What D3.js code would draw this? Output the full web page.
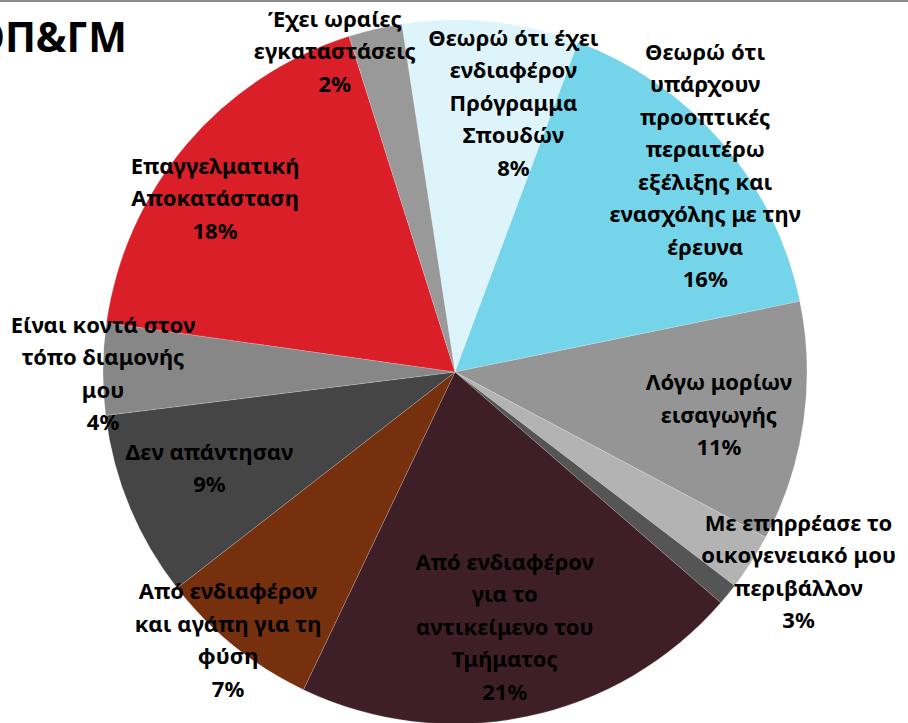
<!DOCTYPE html>
<html>
<head>
<meta charset="utf-8">
<script src="https://d3js.org/d3.v7.min.js"></script>
<style>
  body { margin: 0; background: #fff; }
  text { font-family: "Noto Sans", "DejaVu Sans", sans-serif; font-weight: bold; fill: #000; }
</style>
</head>
<body>
<svg width="908" height="723"></svg>
<script>
// slices, clockwise from the light blue one
var labels = [
  ["Θεωρώ ότι έχει", "ενδιαφέρον", "Πρόγραμμα", "Σπουδών"],
  ["Θεωρώ ότι", "υπάρχουν", "προοπτικές", "περαιτέρω", "εξέλιξης και", "ενασχόλης με την", "έρευνα"],
  ["Λόγω μορίων", "εισαγωγής"],
  ["Με επηρρέασε το", "οικογενειακό μου", "περιβάλλον"],
  [],
  ["Από ενδιαφέρον", "για το", "αντικείμενο του", "Τμήματος"],
  ["Από ενδιαφέρον", "και αγάπη για τη", "φύση"],
  ["Δεν απάντησαν"],
  ["Είναι κοντά στον", "τόπο διαμονής", "μου"],
  ["Επαγγελματική", "Αποκατάσταση"],
  ["Έχει ωραίες", "εγκαταστάσεις"]
];
var values = [8.1, 16.1, 11, 2.6, 1.0, 20.7, 7.4, 8.55, 4.2, 17.9, 2.45];
var colors = ["#ddf4fa", "#74d4ea", "#959595", "#b3b3b3", "#555555", "#3e1f27",
              "#76300d", "#454545", "#878787", "#da1f29", "#999999"];

// label placement: [fraction along the slice, fraction of radius]
var labelPos = [[0.72, 0.78], [0.52, 0.92], [0.53, 0.76], [0.24, 1.13], null,
                [0.51, 0.74], [0.55, 1.0], [0.53, 0.75], [0.44, 1.0], [0.43, 0.84], [-0.35, 0.97]];

var svg = d3.select("svg");
var cx = 455, cy = 372, R = 352;
var start = -8.7 * Math.PI / 180;
var total = d3.sum(values);

// top border line
svg.append("rect").attr("x", 0).attr("y", 0).attr("width", 908).attr("height", 2).attr("fill", "#8c8c8c");

var pie = d3.pie().sort(null).startAngle(start).endAngle(start + 2 * Math.PI);
var arcs = pie(values);
var arc = d3.arc().innerRadius(0).outerRadius(R);

var g = svg.append("g").attr("transform", "translate(" + cx + "," + cy + ")");
g.selectAll("path")
  .data(arcs)
  .enter()
  .append("path")
    .attr("d", arc)
    .attr("fill", function(d, i) { return colors[i]; })
    .attr("stroke", "#fff")
    .attr("stroke-opacity", 0.35)
    .attr("stroke-width", 0.5);

// labels
var lh = 32.5;
arcs.forEach(function(d, i) {
  if (!labelPos[i]) return;
  var a = d.startAngle + (d.endAngle - d.startAngle) * labelPos[i][0];
  var r = R * labelPos[i][1];
  var x = r * Math.sin(a), y = -r * Math.cos(a);
  var lines = labels[i].concat([Math.round(values[i] / total * 100) + "%"]);
  var t = g.append("text")
    .attr("text-anchor", "middle")
    .style("font-size", "22px");
  lines.forEach(function(s, k) {
    t.append("tspan")
      .attr("x", x)
      .attr("y", y + (k - (lines.length - 1) / 2) * lh + 7)
      .text(s);
  });
});

// title (cut at the left edge)
svg.append("text")
  .attr("x", 127)
  .attr("y", 52)
  .attr("text-anchor", "end")
  .style("font-size", "41px")
  .text("ΟΠ&ΓΜ");
</script>
</body>
</html>
